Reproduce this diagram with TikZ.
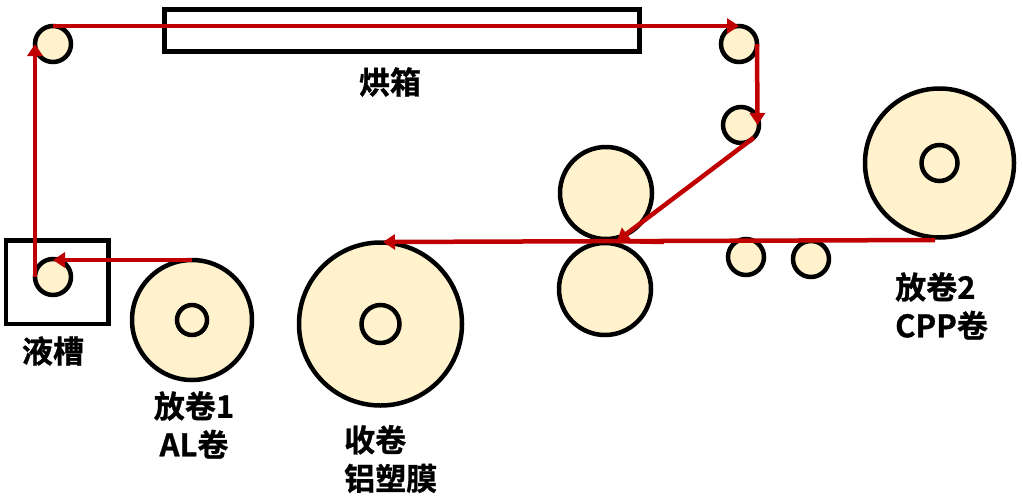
\documentclass[tikz,border=0pt]{standalone}
\usepackage{fontspec}
\setmainfont{Noto Sans CJK SC}[BoldFont={Noto Sans CJK SC Bold},BoldFeatures={FakeBold=0.9}]
\usetikzlibrary{arrows.meta}
\definecolor{rollfill}{RGB}{255,242,204}
\definecolor{filmred}{RGB}{192,0,0}
\tikzset{
	rollstyle/.style={circle, draw=black, line width=4.5pt, fill=rollfill, inner sep=0pt, outer sep=0pt},
	boxstyle/.style={draw=black, line width=4.8pt, inner sep=0pt, outer sep=0pt, anchor=north west},
	filmstyle/.style={draw=filmred, line width=4.5pt},
	filmarrow/.style={filmstyle, -{Triangle[length=12pt, width=15pt]}},
	labelstyle/.style={font=\fontsize{31}{38.5}\selectfont\bfseries, inner sep=0pt, align=center},
}
\begin{document}
\begin{tikzpicture}[x=1pt, y=-1pt]
	\useasboundingbox (0, 0) rectangle (1022, 501);
	% boxes
	\node[boxstyle, minimum width=475pt, minimum height=42pt] (oven) at (164.5, 9.5) {};
	\node[boxstyle, minimum width=102.7pt, minimum height=83.5pt] (tank) at (6, 240.5) {};
	% small rollers
	\node[rollstyle, minimum size=36pt] (guideA) at (53, 44) {};
	\node[rollstyle, minimum size=36pt] (guideB) at (739, 44) {};
	\node[rollstyle, minimum size=36pt] (guideC) at (741, 125) {};
	\node[rollstyle, minimum size=36pt] (guideD) at (746, 257) {};
	\node[rollstyle, minimum size=36pt] (guideE) at (811, 259) {};
	\node[rollstyle, minimum size=36pt] (dipRoll) at (53, 277) {};
	% nip rollers
	\node[rollstyle, minimum size=92pt] (nipTop) at (606, 193) {};
	\node[rollstyle, minimum size=92pt] (nipBottom) at (605, 289) {};
	% coils
	\node[rollstyle, minimum size=120pt] (unwindA) at (192, 320) {};
	\node[rollstyle, minimum size=30pt] (coreA) at (192, 320) {};
	\node[rollstyle, minimum size=163pt] (rewind) at (380.5, 324) {};
	\node[rollstyle, minimum size=38pt] (coreR) at (380.5, 324) {};
	\node[rollstyle, minimum size=149pt] (unwindB) at (939.5, 163) {};
	\node[rollstyle, minimum size=36pt] (coreB) at (939.5, 163) {};
	% film path
	\coordinate (nipIn) at (617, 241);
	\coordinate (nipTail) at (664, 242);
	\coordinate (nipOut) at (383, 242);
	\coordinate (filmStart) at (935, 240);
	\coordinate (dipIn) at (53, 260);
	\coordinate (guideCIn) at (757.5, 125);
	\draw[filmarrow] (unwindA.north) -- (dipIn);
	\draw[filmarrow] (dipRoll.west) -- (guideA.west);
	\draw[filmarrow] (guideA.north) -- (guideB.north);
	\draw[filmarrow] (guideB.east) -- (guideCIn);
	\draw[filmarrow] (guideC.south east) -- (nipIn);
	\draw[filmstyle] (nipTail) -- (nipIn);
	\draw[filmarrow] (filmStart) -- (nipOut);
	% labels
	\node[labelstyle] (ovenText) at (390, 82) {烘箱};
	\node[labelstyle] (tankText) at (53, 351) {液槽};
	\node[labelstyle] (unwindAText) at (194, 425) {放卷1\\AL卷};
	\node[labelstyle, align=left, anchor=west] (rewindText) at (344, 459) {收卷\\铝塑膜};
	\node[labelstyle, align=left, anchor=west] (unwindBText) at (895, 306) {放卷2\\CPP卷};
\end{tikzpicture}
\end{document}
